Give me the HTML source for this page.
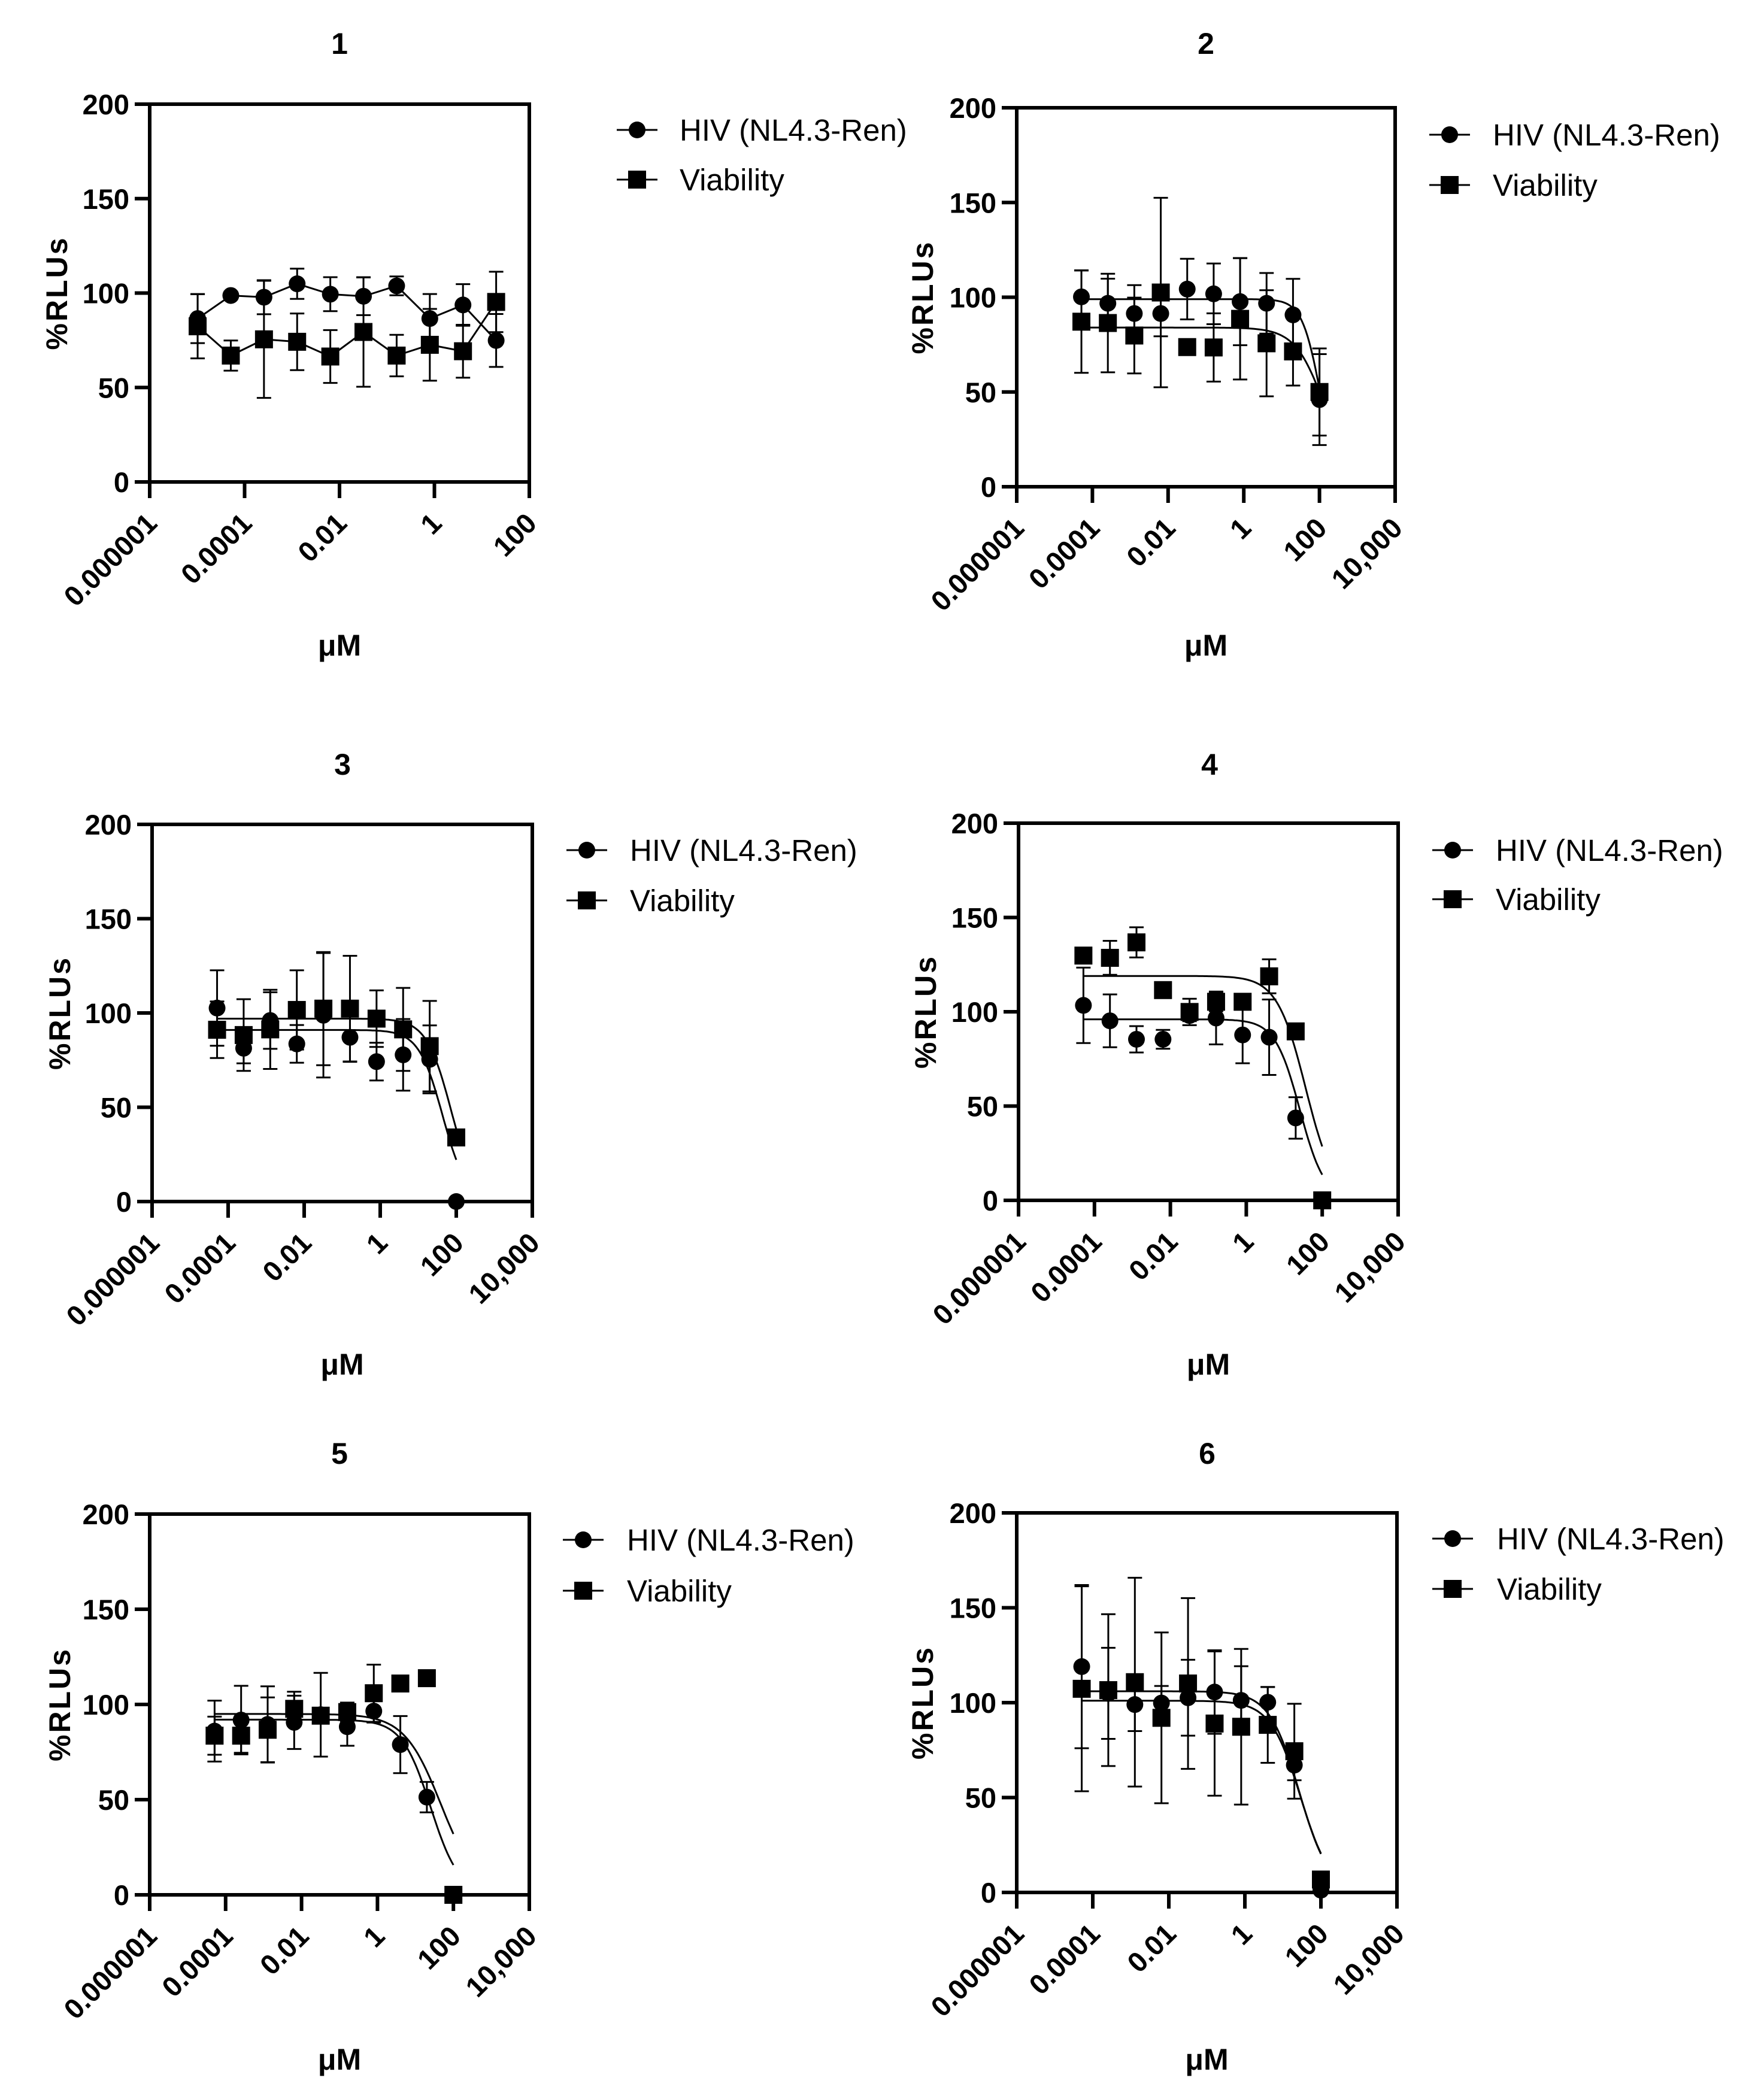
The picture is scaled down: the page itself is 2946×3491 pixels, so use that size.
<!DOCTYPE html>
<html><head><meta charset="utf-8">
<style>
html,body{margin:0;padding:0;background:#fff;}
svg{display:block;}
text{font-family:"Liberation Sans",Arial,sans-serif;fill:#000;}
.tick{font-weight:bold;font-size:47px;}
.ttl{font-weight:bold;font-size:50px;}
.leg{font-size:51px;}
</style></head>
<body>
<svg id="fig" width="2946" height="3491" viewBox="0 0 2946 3491" xmlns="http://www.w3.org/2000/svg"></svg>
<script>
// ---- data ----
const conc1 = [1.024e-5, 5.12e-5, 2.56e-4, 1.28e-3, 6.4e-3, 0.032, 0.16, 0.8, 4, 20];
const concN = [5.12e-5, 2.56e-4, 1.28e-3, 6.4e-3, 0.032, 0.16, 0.8, 4, 20, 100];
const yTicks = [0, 50, 100, 150, 200];
const xTicks8 = ["0.000001","0.0001","0.01","1","100"];
const xTicks10 = ["0.000001","0.0001","0.01","1","100","10,000"];

const hiv1 = [86.5, 98.7, 97.8, 104.9, 99.4, 98.3, 103.8, 86.5, 93.7, 74.9];
const hivErr1 = [13, 2, 9, 8, 9, 10, 5, 13, 11, 14];
const via1 = [82.4, 66.9, 75.5, 74.2, 66.4, 79.4, 66.9, 72.6, 69.2, 95.3];
const viaErr1 = [17, 8, 31, 15, 14, 29, 11, 19, 14, 16];

const hiv2 = [100.2, 96.8, 91.4, 91.4, 104.3, 101.8, 97.7, 96.8, 90.7, 46.0];
const hivErr2 = [14, 13, 15, 12, 16, 16, 23, 16, 19, 24];
const via2 = [87.1, 86.4, 79.8, 102.5, 73.7, 73.5, 88.6, 75.7, 71.4, 50];
const viaErr2 = [27, 26, 20, 50, 3, 18, 32, 28, 18, 23];

const hiv3 = [102.6, 81.3, 96, 83.6, 98.8, 87.1, 74.2, 77.8, 75.4, 0];
const hivErr3 = [20, 8, 15, 10, 33, 13, 10, 19, 18, 0];
const via3 = [91.1, 88.3, 91.3, 101.6, 102.3, 102.3, 97, 91.3, 82.4, 34];
const viaErr3 = [15, 19, 21, 21, 30, 28, 15, 22, 24, 0];

const hiv4 = [103.4, 95.2, 85.4, 85.4, 98, 96.7, 87.7, 86.5, 43.7, 0];
const hivErr4 = [20, 14, 7, 5, 3, 14, 15, 20, 11, 0];
const via4 = [129.8, 128.6, 136.8, 111.5, 99.9, 105.3, 105.3, 118.8, 89.6, 0];
const viaErr4 = [3, 9, 8, 2, 7, 5, 2, 9, 3, 0];

const hiv5 = [86, 91.8, 89.5, 90.6, 94.6, 88.3, 96.5, 78.9, 51.3, 0];
const hivErr5 = [16, 18, 20, 14, 22, 10, 6, 15, 8, 0];
const via5 = [83.6, 83.6, 86.7, 97.7, 94.1, 96, 105.9, 111, 113.8, 0];
const viaErr5 = [10, 9, 17, 9, 4, 5, 15, 4, 3, 0];

const hiv6 = [119, 104.9, 99, 99.8, 102.6, 105.6, 101.2, 100.2, 67.1, 1.2];
const hivErr6 = [43, 24, 14, 9, 20, 22, 18, 8, 8, 0];
const via6 = [107.3, 106.6, 110.8, 92, 110.1, 89, 87.3, 88.3, 74.4, 6.8];
const viaErr6 = [54, 40, 55, 45, 45, 38, 41, 20, 25, 3];

// fit params [top, ic50, hill]
const fitHiv2 = [99, 105, 1.81];  const fitVia2 = [84, 141, 1.11];
const fitHiv3 = [91, 43.9, 1.38]; const fitVia3 = [97, 72.9, 1.34];
const fitHiv4 = [96, 25.8, 1.33]; const fitVia4 = [119, 36.7, 1.15];
const fitHiv5 = [92, 25.2, 1.15]; const fitVia5 = [95, 47, 0.9];
const fitHiv6 = [101, 29, 1.1];   const fitVia6 = [106, 27, 1.1];

// ---- layout ----
const panels = [
 {n:"1",L:250,R:884,T:174,B:805,xmin:-6,xmax:2,ticks:xTicks8,title:[567,72],legX:1030,legTX:1135,legY:[217,300],yt:95,mu:1077,conc:conc1,hiv:hiv1,he:hivErr1,via:via1,ve:viaErr1,fh:null,fv:null},
 {n:"2",L:1698,R:2330,T:180,B:813,xmin:-6,xmax:4,ticks:xTicks10,title:[2014,72],legX:2387,legTX:2493,legY:[225,309],yt:1541,mu:1077,conc:concN,hiv:hiv2,he:hivErr2,via:via2,ve:viaErr2,fh:fitHiv2,fv:fitVia2},
 {n:"3",L:254,R:889,T:1377,B:2007,xmin:-6,xmax:4,ticks:xTicks10,title:[572,1276],legX:946,legTX:1052,legY:[1420,1504],yt:100,mu:2278,conc:concN,hiv:hiv3,he:hivErr3,via:via3,ve:viaErr3,fh:fitHiv3,fv:fitVia3},
 {n:"4",L:1701,R:2335,T:1375,B:2005,xmin:-6,xmax:4,ticks:xTicks10,title:[2020,1276],legX:2392,legTX:2498,legY:[1420,1502],yt:1546,mu:2278,conc:concN,hiv:hiv4,he:hivErr4,via:via4,ve:viaErr4,fh:fitHiv4,fv:fitVia4},
 {n:"5",L:250,R:884,T:2529,B:3165,xmin:-6,xmax:4,ticks:xTicks10,title:[567,2427],legX:940,legTX:1047,legY:[2572,2657],yt:100,mu:3439,conc:concN,hiv:hiv5,he:hivErr5,via:via5,ve:viaErr5,fh:fitHiv5,fv:fitVia5},
 {n:"6",L:1698,R:2333,T:2527,B:3161,xmin:-6,xmax:4,ticks:xTicks10,title:[2016,2427],legX:2392,legTX:2500,legY:[2570,2654],yt:1541,mu:3439,conc:concN,hiv:hiv6,he:hivErr6,via:via6,ve:viaErr6,fh:fitHiv6,fv:fitVia6}
];

const NS = "http://www.w3.org/2000/svg";
const svg = document.getElementById("fig");
function mk(tag, attrs, parent){
  const e = document.createElementNS(NS, tag);
  for (const k in attrs) e.setAttribute(k, attrs[k]);
  parent.appendChild(e);
  return e;
}
function circ(g,x,y,r){ return mk("circle",{cx:x,cy:y,r:r,fill:"#000"},g); }
function sq(g,x,y,s){ return mk("rect",{x:x-s/2,y:y-s/2,width:s,height:s,fill:"#000"},g); }

panels.forEach(p=>{
  const g = mk("g",{},svg);
  
  
  const xs = v => p.L + (Math.log10(v)-p.xmin)/(p.xmax-p.xmin)*(p.R-p.L);
  const xl = d => p.L + (d-p.xmin)/(p.xmax-p.xmin)*(p.R-p.L);
  const ys = v => p.B - v/200*(p.B-p.T);

  const t = mk("text",{x:p.title[0],y:p.title[1]+18,"text-anchor":"middle",class:"ttl"},g);
  t.textContent = p.n;
  
  

  // axes box
  const box = mk("rect",{x:p.L,y:p.T,width:p.R-p.L,height:p.B-p.T,fill:"none",stroke:"#000","stroke-width":6},g);
  
  

  // y ticks
  yTicks.forEach(v=>{
    const y = ys(v);
    mk("line",{x1:p.L-25,x2:p.L,y1:y,y2:y,stroke:"#000","stroke-width":6},g);
    const tt = mk("text",{x:p.L-34,y:y+17,"text-anchor":"end",class:"tick"},g);
    tt.textContent = v;
    
    
  });
  // x ticks
  p.ticks.forEach((lab,i)=>{
    const x = xl(p.xmin + 2*i);
    mk("line",{x1:x,x2:x,y1:p.B,y2:p.B+27,stroke:"#000","stroke-width":6},g);
    const tx = x+15, ty = p.B+72;
    const tt = mk("text",{x:tx,y:ty,"text-anchor":"end",class:"tick",transform:`rotate(-45 ${tx} ${ty})`},g);
    tt.textContent = lab;
    
    
  });
  const yt = mk("text",{x:p.yt,y:(p.T+p.B)/2,"text-anchor":"middle",class:"ttl",transform:`rotate(-90 ${p.yt} ${(p.T+p.B)/2})`,dy:"17","letter-spacing":"3"},g);
  yt.textContent = "%RLUs";
  
  
  const xt = mk("text",{x:(p.L+p.R)/2,y:p.mu+18,"text-anchor":"middle",class:"ttl"},g);
  xt.textContent = "μM";
  
  

  // curves or connecting lines
  const series = [[p.hiv,p.he,p.fh,"hiv"],[p.via,p.ve,p.fv,"viability"]];
  series.forEach(([vals,errs,fit,nm])=>{
    let d = "";
    if (fit) {
      const a = Math.log10(p.conc[0]), b = Math.log10(p.conc[p.conc.length-1]);
      for (let k=0;k<=120;k++){
        const lx = a + (b-a)*k/120, c = Math.pow(10,lx);
        const v = fit[0]/(1+Math.pow(c/fit[1],fit[2]));
        d += (k?"L":"M")+xl(lx).toFixed(1)+" "+ys(v).toFixed(1);
      }
    } else {
      vals.forEach((v,i)=>{ d += (i?"L":"M")+xs(p.conc[i]).toFixed(1)+" "+ys(v).toFixed(1); });
    }
    const path = mk("path",{d:d,fill:"none",stroke:"#000","stroke-width":3},g);
    
    
    vals.forEach((v,i)=>{
      const x = xs(p.conc[i]);
      const e = errs[i];
      if (e>0){
        const eg = mk("g",{stroke:"#000","stroke-width":3},g);
        
        
        mk("line",{x1:x,x2:x,y1:ys(v+e),y2:ys(v-e)},eg);
        mk("line",{x1:x-12,x2:x+12,y1:ys(v+e),y2:ys(v+e)},eg);
        mk("line",{x1:x-12,x2:x+12,y1:ys(v-e),y2:ys(v-e)},eg);
      }
    });
    vals.forEach((v,i)=>{
      const x = xs(p.conc[i]);
      const m = nm==="hiv" ? circ(g,x,ys(v),14) : sq(g,x,ys(v),30);
      
      
    });
  });

  // legend
  const labels = ["HIV (NL4.3-Ren)","Viability"];
  labels.forEach((lab,i)=>{
    const lg = mk("g",{},g);
    
    
    const y = p.legY[i];
    mk("line",{x1:p.legX,x2:p.legX+68,y1:y,y2:y,stroke:"#000","stroke-width":3},lg);
    if (i===0) circ(lg,p.legX+34,y,14); else sq(lg,p.legX+34,y,30);
    const lt = mk("text",{x:p.legTX,y:y+18,class:"leg"},lg);
    lt.textContent = lab;
  });
});
</script>
</body></html>
